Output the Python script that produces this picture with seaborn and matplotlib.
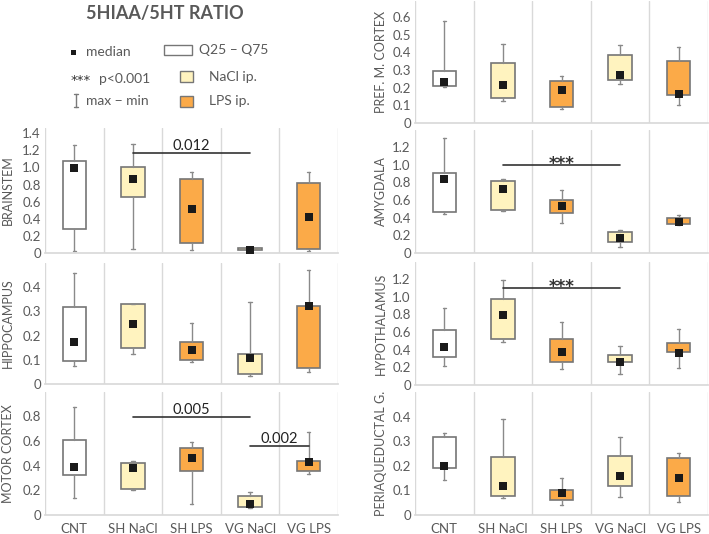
import numpy as np
import pandas as pd
import matplotlib.pyplot as plt
import seaborn as sns
from matplotlib.patches import Rectangle
from matplotlib.lines import Line2D

# groups and colours
groups = ["CNT", "SH NaCl", "SH LPS", "VG NaCl", "VG LPS"]
box_colors = ["#FFFFFF", "#FFF3BF", "#FBAA48", "#FFF3BF", "#FBAA48"]

# min, q25, median, q75, max for each group
brainstem = [
    [0.02, 0.28, 0.99, 1.08, 1.265],
    [0.05, 0.65, 0.865, 1.005, 1.27],
    [0.04, 0.115, 0.51, 0.865, 0.95],
    [0.02, 0.03, 0.035, 0.06, 0.07],
    [0.02, 0.05, 0.42, 0.82, 0.95],
]
hippocampus = [
    [0.076, 0.094, 0.175, 0.32, 0.457],
    [0.124, 0.147, 0.248, 0.332, 0.332],
    [0.091, 0.10, 0.14, 0.173, 0.252],
    [0.035, 0.04, 0.106, 0.124, 0.337],
    [0.05, 0.067, 0.322, 0.324, 0.47],
]
motor_cortex = [
    [0.137, 0.32, 0.388, 0.61, 0.87],
    [0.205, 0.207, 0.38, 0.417, 0.44],
    [0.089, 0.358, 0.458, 0.541, 0.593],
    [0.06, 0.065, 0.089, 0.156, 0.189],
    [0.331, 0.358, 0.431, 0.434, 0.67],
]
pref_m_cortex = [
    [0.205, 0.208, 0.234, 0.296, 0.577],
    [0.122, 0.139, 0.217, 0.341, 0.448],
    [0.08, 0.092, 0.189, 0.24, 0.268],
    [0.223, 0.243, 0.273, 0.384, 0.44],
    [0.101, 0.161, 0.165, 0.348, 0.431],
]
amygdala = [
    [0.445, 0.464, 0.838, 0.909, 1.294],
    [0.48, 0.487, 0.725, 0.815, 0.834],
    [0.34, 0.453, 0.536, 0.596, 0.709],
    [0.068, 0.125, 0.174, 0.238, 0.257],
    [0.32, 0.325, 0.355, 0.396, 0.43],
]
hypothalamus = [
    [0.216, 0.311, 0.429, 0.626, 0.873],
    [0.486, 0.52, 0.793, 0.968, 1.19],
    [0.182, 0.262, 0.368, 0.524, 0.717],
    [0.121, 0.26, 0.265, 0.338, 0.436],
    [0.197, 0.37, 0.365, 0.478, 0.634],
]
periaqueductal = [
    [0.142, 0.193, 0.202, 0.317, 0.335],
    [0.071, 0.079, 0.119, 0.237, 0.39],
    [0.039, 0.061, 0.09, 0.104, 0.151],
    [0.075, 0.118, 0.16, 0.239, 0.317],
    [0.053, 0.079, 0.151, 0.231, 0.254],
]

# significance bars: from group, to group, height, label
brainstem_sig = [(1, 3, 1.17, "0.012")]
motor_sig = [(1, 3, 0.79, "0.005"), (3, 4, 0.56, "0.002")]
amygdala_sig = [(1, 3, 1.0, "***")]
hypothalamus_sig = [(1, 3, 1.10, "***")]

sns.set_theme(style="white")
plt.rcParams['font.family'] = ['Lato', 'DejaVu Sans']
TXT = "#595959"
GRID = "#d9d9d9"

W, H = 709, 534
fig = plt.figure(figsize=(W / 100, H / 100), dpi=100)


def axes_px(left, top, right, bottom):
    return fig.add_axes([left / W, 1 - bottom / H, (right - left) / W, (bottom - top) / H])


def draw_panel(ax, stats, ymax, ystep, ytop, ylabel, sig=(), show_x=False, pad=4):
    bstats = [dict(whislo=s[0], q1=s[1], med=s[2], q3=s[3], whishi=s[4], fliers=[]) for s in stats]
    parts = ax.bxp(bstats, positions=range(len(groups)), widths=0.4, patch_artist=True,
                   showfliers=False, capwidths=0.06,
                   boxprops=dict(edgecolor="#767676", linewidth=1.2),
                   whiskerprops=dict(color="#8a8a8a", linewidth=1),
                   capprops=dict(color="#8a8a8a", linewidth=1),
                   medianprops=dict(linewidth=0))
    for patch, c in zip(parts["boxes"], box_colors):
        patch.set_facecolor(c)

    med = pd.DataFrame({"pos": range(len(groups)), "median": [s[2] for s in stats]})
    sns.scatterplot(data=med, x="pos", y="median", marker="s", color="#1a1a1a",
                    s=30, linewidth=0, ax=ax, zorder=5, legend=False)

    for a, b, y, lab in sig:
        ax.plot([a, b], [y, y], color="#333333", lw=1.2, zorder=6)
        if lab == "***":
            ax.annotate(lab, xy=((a + b) / 2, y), xytext=(0, -3), textcoords="offset points",
                        ha="center", va="baseline", fontsize=12, fontweight="bold",
                        family="DejaVu Sans", color="#333333")
        else:
            ax.annotate(lab, xy=((a + b) / 2, y), xytext=(0, 0), textcoords="offset points",
                        ha="center", va="bottom", fontsize=10.5, color="#222222")

    ax.set_xlim(-0.5, len(groups) - 0.5)
    ax.set_ylim(0, ymax)
    ticks = np.round(np.arange(0, ytop + 1e-9, ystep), 2)
    ax.set_yticks(ticks)
    ax.set_yticklabels(["0" if t == 0 else f"{t:.1f}" for t in ticks], fontsize=9.5, color=TXT)
    ax.set_xticks(range(len(groups)))
    if show_x:
        ax.set_xticklabels(groups, fontsize=9.5, color=TXT)
    else:
        ax.set_xticklabels([])
    ax.set_xticks(np.arange(-0.5, len(groups)), minor=True)
    ax.grid(which="minor", axis="x", color=GRID, lw=1)
    ax.grid(which="major", visible=False)
    ax.tick_params(axis="x", which="major", length=0, pad=6)
    ax.tick_params(axis="x", which="minor", length=4, color=GRID, width=1, direction="out")
    ax.tick_params(axis="y", length=0, pad=3)
    ax.set_xlabel("")
    ax.set_ylabel(ylabel, fontsize=9, color=TXT, labelpad=pad)
    for side in ["top", "right", "left"]:
        ax.spines[side].set_visible(False)
    ax.spines["bottom"].set_color(GRID)
    ax.patch.set_alpha(0)


# left column
ax = axes_px(45, 128, 338, 253)
draw_panel(ax, brainstem, 1.46, 0.2, 1.4, "BRAINSTEM", brainstem_sig, pad=6)
ax = axes_px(45, 263, 338, 384)
draw_panel(ax, hippocampus, 0.5, 0.1, 0.4, "HIPPOCAMPUS", pad=6)
ax = axes_px(45, 392, 338, 515)
draw_panel(ax, motor_cortex, 0.995, 0.2, 0.8, "MOTOR CORTEX", motor_sig, show_x=True, pad=6)

# right column
ax = axes_px(415, 1, 708, 123)
draw_panel(ax, pref_m_cortex, 0.69, 0.1, 0.6, "PREF. M. CORTEX")
ax = axes_px(415, 130, 708, 253)
draw_panel(ax, amygdala, 1.39, 0.2, 1.2, "AMYGDALA", amygdala_sig)
ax = axes_px(415, 262, 708, 385)
draw_panel(ax, hypothalamus, 1.39, 0.2, 1.2, "HYPOTHALAMUS", hypothalamus_sig)
ax = axes_px(415, 392, 708, 515)
draw_panel(ax, periaqueductal, 0.502, 0.1, 0.4, "PERIAQUEDUCTAL G.", show_x=True)


# title and hand made legend (pixel positions)
def fx(x):
    return x / W


def fy(y):
    return 1 - y / H


fig.text(fx(165), fy(13), "5HIAA/5HT RATIO", ha="center", va="center",
         fontsize=13, fontweight="bold", color=TXT)

fig.add_artist(Rectangle((fx(70.5), fy(55)), 5 / W, 5 / H, transform=fig.transFigure,
                         facecolor="#1a1a1a", edgecolor="none"))
fig.text(fx(86), fy(52), "median", va="center", fontsize=10, color=TXT)
fig.text(fx(71), fy(84), "***", va="baseline", fontsize=9.5, family="DejaVu Sans", color="#333333")
fig.text(fx(99), fy(79), "p<0.001", va="center", fontsize=10, color=TXT)
for xs, ys in [([76, 76], [94, 107]), ([74, 78], [94, 94]), ([74, 78], [107, 107])]:
    fig.add_artist(Line2D([fx(v) for v in xs], [fy(v) for v in ys], transform=fig.transFigure,
                          color="#7a7a7a", lw=1))
fig.text(fx(86), fy(101), "max \u2212 min", va="center", fontsize=10, color=TXT)

for (x0, y0, x1, y1), c in [((164, 45, 192, 55), "#FFFFFF"),
                            ((180, 71, 193, 82), box_colors[1]),
                            ((180, 96, 193, 107), box_colors[2])]:
    fig.add_artist(Rectangle((fx(x0), fy(y1)), (x1 - x0) / W, (y1 - y0) / H,
                             transform=fig.transFigure, facecolor=c, edgecolor="#767676", lw=1))
fig.text(fx(199), fy(50), "Q25 \u2013 Q75", va="center", fontsize=10, color=TXT)
fig.text(fx(209), fy(77), "NaCl ip.", va="center", fontsize=10, color=TXT)
fig.text(fx(209), fy(101), "LPS ip.", va="center", fontsize=10, color=TXT)

fig.savefig("out.png", dpi=100)
